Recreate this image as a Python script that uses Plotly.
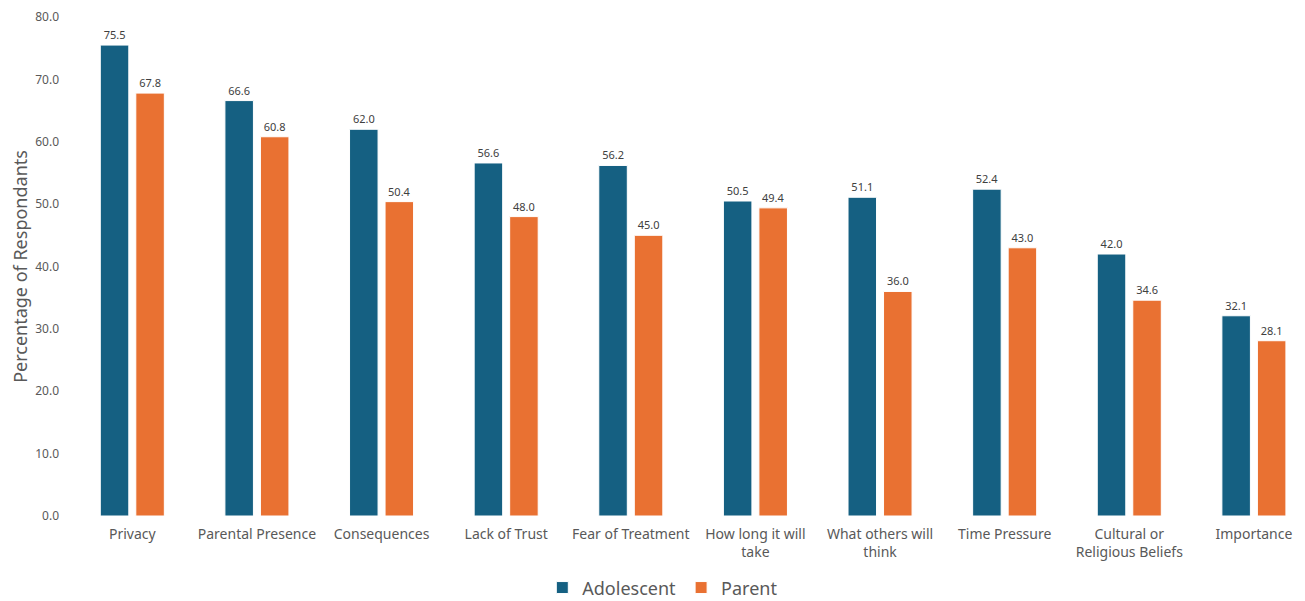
import plotly.graph_objects as go

categories = ["Privacy", "Parental Presence", "Consequences", "Lack of Trust", "Fear of Treatment",
              "How long it will<br>take", "What others will<br>think", "Time Pressure",
              "Cultural or<br>Religious Beliefs", "Importance"]
adolescent = [75.5, 66.6, 62.0, 56.6, 56.2, 50.5, 51.1, 52.4, 42.0, 32.1]
parent = [67.8, 60.8, 50.4, 48.0, 45.0, 49.4, 36.0, 43.0, 34.6, 28.1]
y_ticks = [0, 10, 20, 30, 40, 50, 60, 70, 80]

FONT = "Noto Sans"
fig = go.Figure()
for name, vals, col in [("Adolescent", adolescent, "#156082"), ("Parent", parent, "#E97132")]:
    fig.add_trace(go.Bar(
        x=categories, y=vals, name=name,
        marker=dict(color=col, line=dict(color="white", width=1)),
        text=vals, texttemplate="%{y:.1f}", textposition="outside",
        textfont=dict(size=11, color="#404040", family=FONT),
        cliponaxis=False, hoverinfo="skip",
    ))

fig.update_layout(
    width=1297, height=593,
    margin=dict(l=62, r=0, t=9, b=85, autoexpand=False),
    paper_bgcolor="white", plot_bgcolor="white",
    barmode="group", bargap=0.43, bargroupgap=0.197,
    font=dict(family=FONT, color="#595959"),
    showlegend=True,
    legend=dict(orientation="h", yref="paper",
                x=0.48, xanchor="center", y=-0.144, yanchor="middle",
                font=dict(size=18, color="#595959"), itemwidth=30),
    xaxis=dict(range=[-0.5, 9.41], showline=False, showgrid=False, ticks="",
               automargin=False, ticklabelstandoff=8,
               tickfont=dict(size=14, color="#595959")),
    yaxis=dict(range=[0, 80], tickvals=y_ticks, tickformat=".1f", showgrid=False,
               zeroline=False, showline=False, ticklabelstandoff=10, automargin=False,
               tickfont=dict(size=12, color="#595959"),
               title=dict(text="Percentage of Respondants", standoff=8,
                          font=dict(size=18, color="#595959"))),
)

fig.write_html("out.html")
